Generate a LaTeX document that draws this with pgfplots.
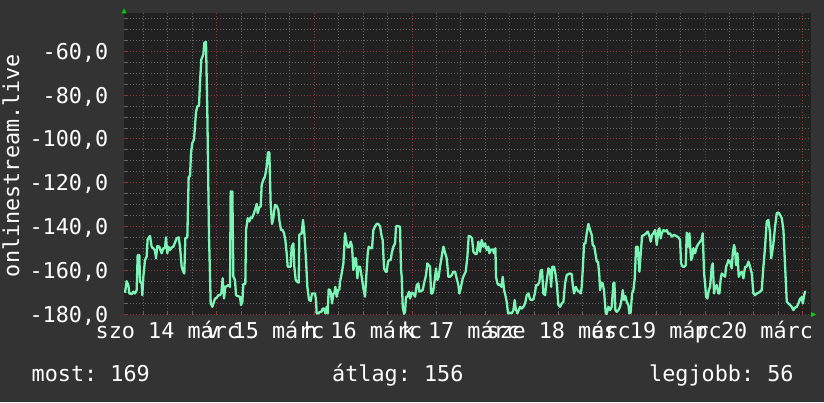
\documentclass[border=0pt]{standalone}
\usepackage{fontspec}
\setmainfont{DejaVu Sans Mono}
\usepackage{pgfplots}
\pgfplotsset{compat=1.18}
\definecolor{outerbg}{RGB}{51,51,51}
\definecolor{plotbg}{RGB}{33,33,33}
\definecolor{majorgrid}{RGB}{135,55,55}
\definecolor{minorgrid}{RGB}{100,100,100}
\definecolor{linecol}{RGB}{122,245,182}
\definecolor{arrowgreen}{RGB}{0,210,0}
\newcommand{\rrdfont}{\fontsize{21.8}{26}\selectfont\frenchspacing}
\begin{document}
\frenchspacing
\begin{tikzpicture}[x=1pt,y=1pt]
\fill[outerbg] (0,0) rectangle (824,402);
\begin{axis}[
  at={(124pt,87.5pt)}, anchor=south west,
  scale only axis, width=686.5pt, height=301pt,
  xmin=1.23, xmax=169.9, ymin=-180, ymax=-42.8,
  axis background/.style={fill=plotbg},
  axis line style={draw=none},
  tick pos=left,
  xtick={24,48,72,96,120,144,168},
  xticklabels={},
  minor xtick={6,12,18,30,36,42,54,60,66,78,84,90,102,108,114,126,132,138,150,156,162},
  ytick={-180,-160,-140,-120,-100,-80,-60},
  yticklabels={{-180,0},{-160,0},{-140,0},{-120,0},{-100,0},{-80,0},{-60,0}},
  minor ytick={-175,-170,-165,-155,-150,-145,-135,-130,-125,-115,-110,-105,-95,-90,-85,-75,-70,-65,-55,-50,-45},
  grid=both,
  major grid style={majorgrid, line width=1pt, dash pattern=on 1pt off 2pt},
  minor grid style={minorgrid, line width=1pt, dash pattern=on 1pt off 2pt},
  major tick length=3pt, minor tick length=3pt,
  major tick style={majorgrid, line width=1pt},
  minor tick style={minorgrid, line width=1pt},
  tick label style={font=\rrdfont, text=white, inner sep=0pt},
  yticklabel style={anchor=base east, xshift=-15.5pt, yshift=-7.9pt},
  xticklabel style={anchor=base, yshift=-23.8pt},
  extra x ticks={12,36,60,84,108,132,156},
  extra x tick labels={szo 14 márc,v 15 márc,h 16 márc,k 17 márc,sze 18 márc,cs 19 márc,p 20 márc},
  extra x tick style={major tick length=0pt, grid=none},
]
\addplot[linecol, line width=2.3pt, sharp plot, line join=round] coordinates {
(1.47,-170.1)(1.88,-164.8)(2.29,-166.6)(2.54,-170.4)(3.11,-170.7)(3.52,-169.6)(3.93,-170.4)(4.34,-168.9)
(4.59,-152.9)(5.00,-152.9)(5.16,-165.1)(5.57,-165.8)(5.73,-171.2)(5.98,-162.8)(6.39,-155.2)(6.80,-153.6)
(7.04,-145.7)(7.62,-144.2)(8.03,-149.1)(8.44,-149.8)(8.85,-150.9)(9.09,-154.4)(9.42,-148.8)(9.91,-149.1)
(10.24,-150.9)(10.48,-152.1)(10.89,-149.8)(11.30,-149.8)(11.55,-144.8)(11.88,-152.1)(12.12,-149.1)(12.53,-150.6)
(12.94,-149.4)(13.35,-149.1)(13.76,-147.2)(14.17,-145.3)(14.66,-144.8)(14.99,-149.1)(15.40,-158.2)(15.81,-160.5)
(16.05,-161.3)(16.30,-145.3)(16.79,-144.8)(17.12,-117.1)(17.45,-117.1)(17.69,-106.4)(18.02,-101.8)(18.43,-100.3)
(18.92,-87.8)(19.25,-85.1)(19.66,-84.8)(19.90,-74.4)(20.23,-63.8)(20.72,-61.5)(20.97,-56.1)(21.38,-55.8)
(21.71,-88.9)(22.12,-144.5)(22.53,-175.0)(22.93,-176.5)(23.34,-174.2)(23.59,-172.7)(24.00,-172.4)(24.41,-171.2)
(24.82,-171.2)(25.15,-170.1)(25.47,-163.5)(25.80,-172.7)(26.13,-167.4)(26.46,-167.1)(26.87,-166.6)(27.28,-167.4)
(27.44,-123.9)(27.85,-123.9)(28.10,-162.8)(28.51,-164.3)(28.75,-171.2)(29.16,-171.6)(29.73,-171.9)(29.98,-175.7)
(30.31,-174.2)(30.55,-166.1)(31.04,-166.1)(31.21,-141.5)(31.62,-136.1)(32.03,-137.6)(32.35,-135.7)(32.68,-136.1)
(33.01,-134.6)(33.42,-132.3)(33.83,-129.6)(34.07,-133.8)(34.48,-131.1)(34.81,-130.8)(35.06,-120.9)(35.47,-118.6)
(35.88,-117.1)(36.29,-112.5)(36.61,-106.1)(36.94,-106.1)(37.27,-130.0)(37.60,-138.7)(37.92,-136.1)(38.33,-130.0)
(38.74,-130.5)(39.15,-132.3)(39.40,-136.9)(39.81,-141.5)(40.22,-141.5)(40.55,-143.0)(40.87,-146.0)(41.20,-152.1)
(41.45,-158.2)(42.18,-158.2)(42.43,-149.1)(42.84,-147.6)(43.08,-158.2)(43.41,-164.3)(43.82,-165.1)(44.15,-165.5)
(44.31,-143.7)(44.89,-143.0)(45.21,-136.9)(45.54,-143.0)(45.95,-155.2)(46.28,-167.4)(46.69,-173.4)(47.10,-173.8)
(47.43,-170.4)(48.16,-170.4)(48.41,-173.4)(48.57,-179.5)(48.98,-179.5)(49.39,-178.8)(49.72,-178.8)(50.05,-177.3)
(50.37,-177.3)(50.70,-179.5)(51.03,-176.5)(51.28,-179.5)(51.52,-168.6)(51.85,-168.9)(52.09,-170.4)(52.34,-175.0)
(52.67,-170.4)(52.91,-170.4)(53.16,-167.4)(53.49,-171.9)(53.81,-168.9)(54.14,-168.6)(54.31,-165.1)(54.72,-161.3)
(55.13,-156.7)(55.54,-143.0)(55.94,-147.6)(56.19,-149.4)(56.60,-149.1)(56.93,-146.8)(57.26,-149.1)(57.58,-159.7)
(57.99,-154.4)(58.24,-154.4)(58.57,-163.5)(58.81,-158.2)(59.22,-158.2)(59.63,-162.8)(60.04,-168.1)(60.45,-171.9)
(60.70,-164.3)(61.11,-152.1)(61.35,-149.1)(61.84,-149.8)(62.17,-149.8)(62.50,-141.5)(62.91,-139.9)(63.32,-138.7)
(63.73,-138.7)(64.14,-139.9)(64.55,-144.5)(64.79,-146.0)(65.12,-159.0)(65.53,-160.5)(65.77,-160.5)(66.10,-155.9)
(66.43,-155.2)(66.76,-155.2)(67.00,-152.1)(67.41,-149.1)(67.82,-147.6)(68.07,-139.9)(68.40,-139.6)(68.80,-139.9)
(69.05,-139.9)(69.30,-159.7)(69.46,-162.8)(69.71,-176.5)(70.03,-179.7)(70.28,-178.8)(70.52,-171.9)(70.85,-171.9)
(71.26,-169.6)(71.51,-172.7)(71.92,-170.1)(72.33,-170.4)(72.74,-171.9)(73.15,-166.6)(73.56,-165.8)(73.80,-169.6)
(74.29,-169.2)(74.62,-168.9)(74.95,-165.8)(75.44,-162.0)(75.77,-156.7)(76.09,-157.5)(76.42,-158.2)(76.67,-170.4)
(76.99,-170.4)(77.24,-168.9)(77.57,-164.3)(77.90,-159.0)(78.22,-164.3)(78.55,-162.8)(78.88,-158.2)(79.29,-153.6)
(79.70,-149.1)(80.11,-151.8)(80.52,-154.4)(80.93,-162.8)(81.34,-162.8)(81.75,-162.0)(82.16,-160.5)(82.57,-160.5)
(82.97,-163.5)(83.38,-166.6)(83.63,-170.4)(84.04,-167.4)(84.45,-163.5)(84.78,-162.0)(85.19,-160.5)(85.60,-153.6)
(85.92,-144.2)(86.41,-144.5)(86.74,-145.3)(87.07,-151.4)(87.56,-152.4)(87.89,-152.4)(88.30,-146.8)(88.71,-151.4)
(89.12,-146.0)(89.53,-149.1)(89.94,-147.6)(90.35,-150.6)(90.76,-149.1)(91.00,-152.1)(91.33,-150.6)(91.82,-150.3)
(92.15,-152.1)(92.48,-149.8)(92.64,-162.8)(92.97,-165.8)(93.30,-166.6)(93.62,-166.3)(93.95,-167.4)(94.28,-162.8)
(94.61,-168.9)(94.85,-170.4)(95.26,-174.2)(95.59,-179.5)(96.08,-179.2)(96.49,-179.5)(96.90,-178.0)(97.23,-173.4)
(97.47,-177.3)(97.88,-179.5)(98.21,-178.0)(98.54,-176.5)(98.95,-177.3)(99.36,-176.5)(99.77,-175.0)(100.18,-171.2)
(100.59,-170.4)(101.00,-173.1)(101.40,-173.4)(101.81,-173.1)(102.22,-170.1)(102.47,-166.6)(102.88,-166.6)(103.29,-165.1)
(103.62,-160.0)(103.94,-159.7)(104.27,-170.4)(104.68,-171.2)(105.09,-164.6)(105.50,-159.0)(105.91,-159.7)(106.16,-167.4)
(106.48,-158.2)(106.89,-158.2)(107.22,-161.3)(107.55,-165.8)(107.96,-175.7)(108.37,-176.5)(108.78,-175.0)(109.19,-174.2)
(109.60,-165.8)(110.01,-162.0)(110.42,-161.6)(110.82,-161.3)(111.23,-161.6)(111.48,-166.6)(111.81,-170.4)(112.22,-167.4)
(112.63,-168.9)(113.04,-169.6)(113.45,-170.4)(113.69,-167.4)(113.94,-159.7)(114.27,-147.6)(114.59,-147.6)(114.92,-143.0)
(115.33,-138.7)(115.74,-141.5)(116.15,-143.7)(116.39,-148.3)(116.80,-149.1)(117.05,-152.1)(117.38,-155.9)(117.70,-155.9)
(118.03,-162.5)(118.20,-168.9)(118.52,-165.5)(118.85,-165.8)(119.18,-169.2)(119.59,-179.5)(119.83,-179.7)(120.24,-176.5)
(120.65,-178.0)(121.06,-176.5)(121.47,-165.8)(121.72,-165.5)(121.96,-178.0)(122.29,-178.8)(122.70,-178.0)(123.11,-176.5)
(123.52,-172.7)(123.77,-168.9)(124.09,-173.4)(124.42,-171.6)(124.75,-174.2)(125.16,-175.7)(125.40,-179.5)(125.73,-178.8)
(126.06,-170.4)(126.39,-168.9)(126.72,-163.5)(127.04,-149.1)(127.45,-149.1)(127.86,-160.5)(128.19,-152.1)(128.52,-144.2)
(129.09,-143.7)(129.50,-143.0)(129.91,-142.2)(130.32,-144.2)(130.65,-146.8)(130.97,-143.7)(131.30,-143.0)(131.71,-141.5)
(132.12,-148.3)(132.53,-141.5)(132.78,-140.7)(133.10,-145.3)(133.35,-143.0)(133.76,-141.5)(134.17,-142.2)(134.58,-141.5)
(134.99,-143.3)(135.40,-143.0)(135.81,-144.5)(136.38,-143.7)(136.87,-144.2)(137.44,-144.8)(137.85,-146.0)(138.10,-156.7)
(138.51,-158.2)(138.92,-158.2)(139.25,-157.5)(139.49,-142.7)(139.82,-149.1)(140.15,-143.0)(140.56,-155.2)(140.88,-153.6)
(141.13,-149.8)(141.54,-152.1)(141.95,-149.1)(142.44,-147.6)(142.77,-146.8)(143.18,-145.7)(143.42,-143.0)(143.75,-161.3)
(144.00,-165.8)(144.24,-171.9)(144.57,-172.7)(144.90,-168.9)(145.23,-167.4)(145.64,-158.2)(145.88,-156.7)(146.21,-170.4)
(146.46,-167.4)(146.86,-166.6)(147.27,-170.4)(147.52,-170.4)(147.85,-163.5)(148.09,-161.3)(148.50,-162.0)(148.91,-162.8)
(149.16,-158.2)(149.49,-156.7)(149.73,-155.2)(150.14,-155.9)(150.55,-159.0)(150.80,-152.1)(151.12,-148.3)(151.37,-150.6)
(151.61,-157.5)(151.94,-152.1)(152.27,-162.8)(152.60,-161.3)(153.01,-160.5)(153.42,-163.5)(153.83,-158.2)(154.24,-158.2)
(154.65,-155.9)(155.06,-158.2)(155.47,-161.3)(155.87,-170.4)(156.28,-171.2)(156.69,-170.4)(157.10,-170.1)(157.51,-169.6)
(157.92,-168.9)(158.33,-158.2)(158.74,-149.1)(159.15,-137.6)(159.56,-136.9)(159.97,-143.0)(160.22,-154.4)(160.46,-152.1)
(160.79,-147.6)(161.20,-139.9)(161.61,-133.8)(162.02,-133.5)(162.43,-134.6)(162.84,-136.1)(163.25,-141.5)(163.66,-158.2)
(163.90,-167.4)(164.07,-174.2)(164.48,-175.0)(164.88,-175.7)(165.29,-176.5)(165.70,-178.0)(166.11,-176.8)(166.52,-176.5)
(166.93,-175.0)(167.34,-172.7)(167.59,-173.4)(167.75,-171.9)(168.00,-175.0)(168.33,-171.2)(168.57,-169.6)(168.82,-169.6)
};
\end{axis}
\fill[arrowgreen] (121.5,388.5) -- (126.5,388.5) -- (124,393.5) -- cycle;
\fill[arrowgreen] (811,85) -- (811,90) -- (816,87.5) -- cycle;
\node[font=\rrdfont, text=white, rotate=90, anchor=base, inner sep=0pt] at (19,236.5) {onlinestream.live};
\node[font=\rrdfont, text=white, anchor=base west, inner sep=0pt] at (31.5,21) {most: 169};
\node[font=\rrdfont, text=white, anchor=base west, inner sep=0pt] at (332,21) {átlag: 156};
\node[font=\rrdfont, text=white, anchor=base west, inner sep=0pt] at (649,21) {legjobb: 56};
\pgfresetboundingbox
\path[use as bounding box] (0,0) rectangle (824,402);
\end{tikzpicture}
\end{document}
